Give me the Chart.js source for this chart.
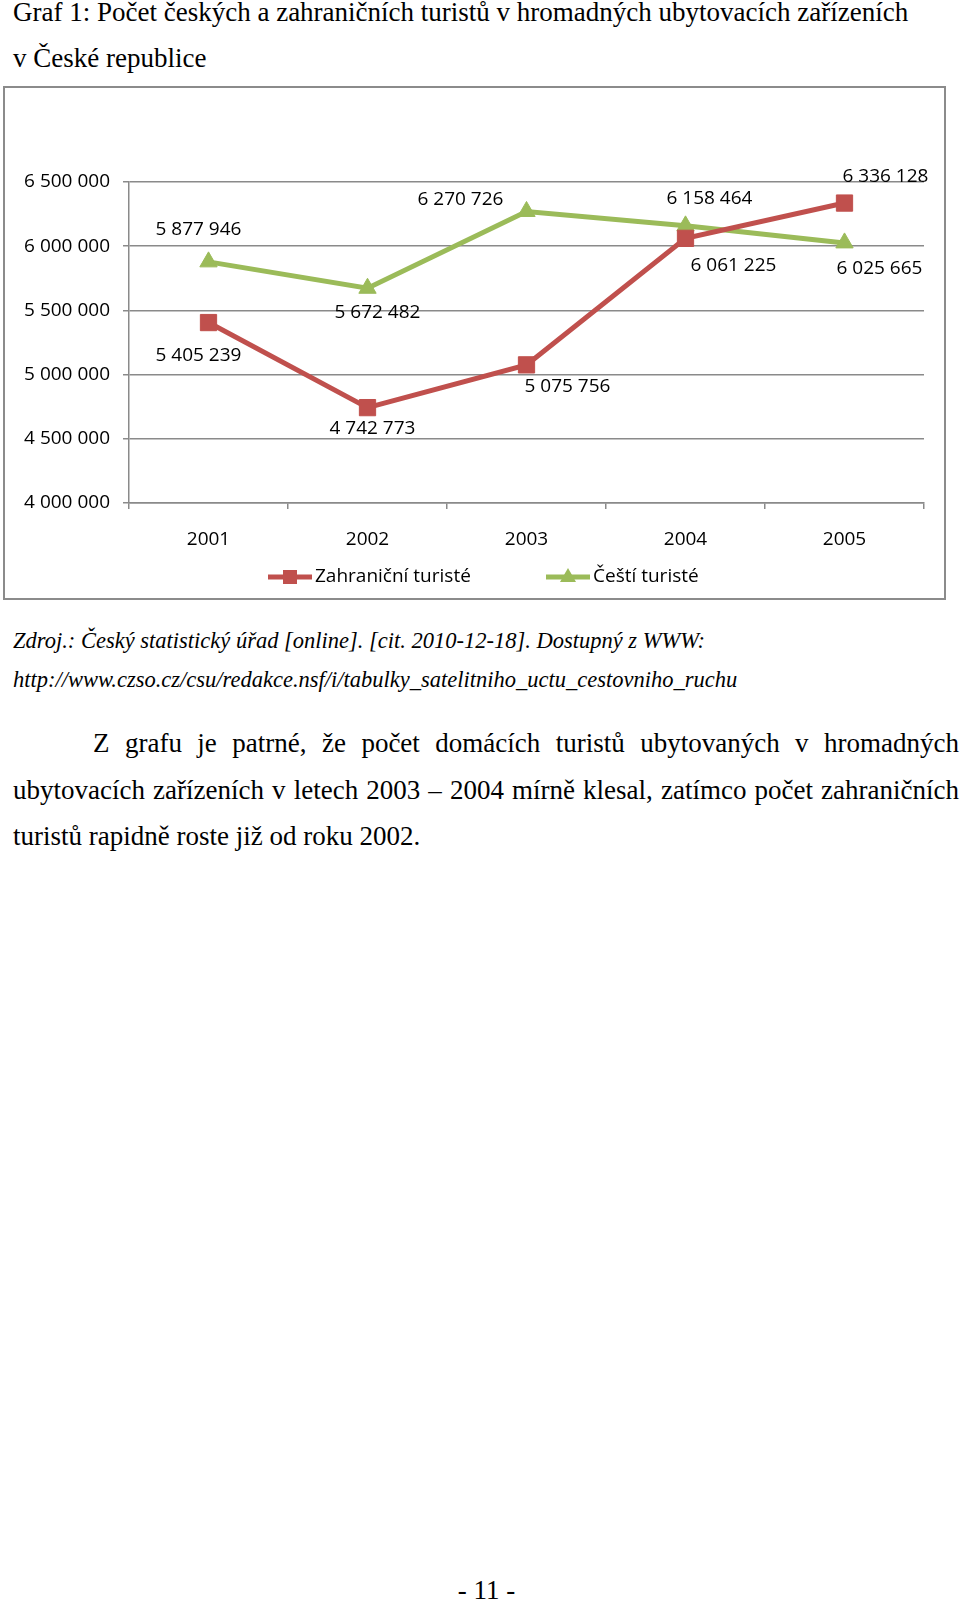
<html>
  <head>
    <meta charset="utf-8" />
    <style>
      body { margin: 0; background: #fff; width: 960px; height: 1601px; position: relative; overflow: hidden; }
      .serif { font-family: "Liberation Serif", "Times New Roman", serif; color: #000; position: absolute; }
      #title { left: 13px; top: -10px; font-size: 27px; line-height: 45.5px; width: 945px; white-space: nowrap; }
      #source { left: 13px; top: 621px; font-size: 22.5px; line-height: 39px; font-style: italic; white-space: nowrap; }
      #para { left: 13px; top: 720px; width: 946px; font-size: 27px; line-height: 46.5px; text-align: justify; text-indent: 80px; }
      #page { left: 0; width: 973px; text-align: center; top: 1568px; font-size: 27px; line-height: 45px; }
      #box { position: absolute; left: 3px; top: 86px; width: 939px; height: 510px; border: 2px solid #8b8b8b; }
    </style>
  </head>
  <body>
    <div id="title" class="serif">Graf 1: Počet českých a zahraničních turistů v hromadných ubytovacích zařízeních<br>v České republice</div>
    <div id="box">
      <canvas id="myChart" width="939" height="510"></canvas>
    </div>
    <div id="source" class="serif">Zdroj.: Český statistický úřad [online]. [cit. 2010-12-18]. Dostupný z WWW:<br>http://www.czso.cz/csu/redakce.nsf/i/tabulky_satelitniho_uctu_cestovniho_ruchu</div>
    <div id="para" class="serif">Z grafu je patrné, že počet domácích turistů ubytovaných v hromadných ubytovacích zařízeních v letech 2003 – 2004 mírně klesal, zatímco počet zahraničních turistů rapidně roste již od roku 2002.</div>
    <div id="page" class="serif">- 11 -</div>

    <script src="https://cdn.jsdelivr.net/npm/chart.js"></script>
    <script>
      const years = ['2001', '2002', '2003', '2004', '2005'];
      const foreignTourists = [5405239, 4742773, 5075756, 6061225, 6336128];
      const czechTourists = [5877946, 5672482, 6270726, 6158464, 6025665];
      const seriesNames = ['Zahraniční turisté', 'Čeští turisté'];
      const yTicks = [4000000, 4500000, 5000000, 5500000, 6000000, 6500000];

      const RED = '#c0504d';
      const GREEN = '#9bbb59';
      const FONT = '"Open Sans", "Noto Sans", sans-serif';

      function fmt(v) {
        return String(v).replace(/\B(?=(\d{3})+(?!\d))/g, ' ');
      }

      // label offsets from each point, in px (Excel placed them by hand)
      const labelOffsets = [
        [[-10, 33], [5, 21], [41, 22], [48, 27], [41, -26]],
        [[-10, -32], [10, 24], [-66, -12], [24, -27], [35, 26]]
      ];

      const valueLabels = {
        id: 'valueLabels',
        afterDatasetsDraw(chart) {
          const ctx = chart.ctx;
          ctx.save();
          ctx.font = '19px ' + FONT;
          ctx.fillStyle = '#000';
          ctx.textAlign = 'center';
          ctx.textBaseline = 'middle';
          chart.data.datasets.forEach((ds, i) => {
            chart.getDatasetMeta(i).data.forEach((pt, j) => {
              const off = labelOffsets[i][j];
              ctx.fillText(fmt(ds.data[j]), pt.x + off[0], pt.y + off[1]);
            });
          });
          ctx.restore();
        }
      };

      const legendItems = {
        id: 'legendItems',
        afterDraw(chart) {
          const ctx = chart.ctx;
          const xs = [263, 541];
          const y = 489;
          ctx.save();
          chart.data.datasets.forEach((ds, i) => {
            const x = xs[i];
            ctx.strokeStyle = ds.borderColor;
            ctx.fillStyle = ds.borderColor;
            ctx.lineWidth = 5;
            ctx.beginPath();
            ctx.moveTo(x, y);
            ctx.lineTo(x + 44, y);
            ctx.stroke();
            const cx = x + 22;
            if (ds.pointStyle === 'rect') {
              ctx.fillRect(cx - 7, y - 7, 14, 14);
            } else {
              ctx.beginPath();
              ctx.moveTo(cx, y - 9);
              ctx.lineTo(cx + 8, y + 5);
              ctx.lineTo(cx - 8, y + 5);
              ctx.closePath();
              ctx.fill();
            }
            ctx.fillStyle = '#000';
            ctx.font = '19px ' + FONT;
            ctx.textBaseline = 'middle';
            ctx.fillText(ds.label, x + 47, y);
          });
          ctx.restore();
        }
      };

      const ctx = document.getElementById('myChart');
      new Chart(ctx, {
        type: 'line',
        data: {
          labels: years,
          datasets: [
            {
              label: seriesNames[0],
              data: foreignTourists,
              borderColor: RED,
              backgroundColor: RED,
              borderWidth: 5,
              pointStyle: 'rect',
              pointRadius: 11.5,
              pointBorderWidth: 1,
              tension: 0
            },
            {
              label: seriesNames[1],
              data: czechTourists,
              borderColor: GREEN,
              backgroundColor: GREEN,
              borderWidth: 5,
              pointStyle: 'triangle',
              pointRadius: 10,
              pointBorderWidth: 1,
              tension: 0
            }
          ]
        },
        options: {
          responsive: false,
          animation: false,
          layout: { padding: { left: 0, top: 94, right: 20, bottom: 35 } },
          plugins: {
            legend: { display: false },
            tooltip: { enabled: false }
          },
          scales: {
            x: {
              offset: true,
              grid: { drawOnChartArea: false, offset: true, tickLength: 6, color: '#8a8a8a', lineWidth: 1.5 },
              border: { display: true, color: '#8a8a8a', width: 1.5 },
              ticks: { color: '#000', font: { family: FONT, size: 19 }, padding: 19, maxRotation: 0, autoSkip: false },
              afterFit(scale) { scale.height = 60; }
            },
            y: {
              min: 4000000,
              max: 6500000,
              afterBuildTicks(scale) { scale.ticks = yTicks.map(v => ({ value: v })); },
              grid: { color: '#8a8a8a', lineWidth: 1.5, tickLength: 6 },
              border: { display: true, color: '#8a8a8a', width: 1.5 },
              ticks: { color: '#000', font: { family: FONT, size: 19 }, padding: 13, callback: v => fmt(v) },
              afterFit(scale) { scale.width = 124; }
            }
          }
        },
        plugins: [valueLabels, legendItems]
      });
    </script>
  </body>
</html>
